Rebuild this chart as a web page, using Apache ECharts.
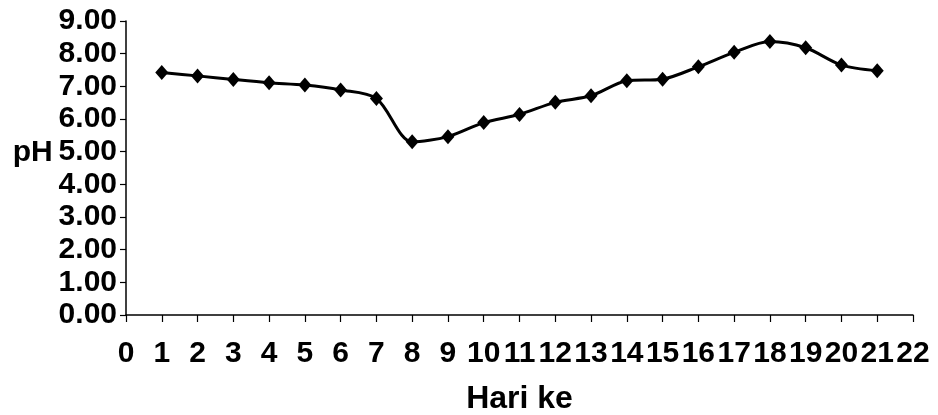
<!DOCTYPE html>
<html>
<head>
<meta charset="utf-8">
<script src="https://cdn.jsdelivr.net/npm/echarts@6/dist/echarts.min.js"></script>
<style>
html,body{margin:0;padding:0;background:#fff;}
#chart{width:938px;height:415px;}
</style>
</head>
<body>
<div id="chart"></div>
<script>
var days = [1,2,3,4,5,6,7,8,9,10,11,12,13,14,15,16,17,18,19,20,21];
var phValues = [7.42,7.32,7.21,7.11,7.04,6.89,6.63,5.30,5.46,5.89,6.14,6.51,6.71,7.17,7.22,7.60,8.04,8.37,8.18,7.65,7.48];
var xTickLabels = ['0','1','2','3','4','5','6','7','8','9','10','11','12','13','14','15','16','17','18','19','20','21','22'];
var yTickLabels = ['0.00','1.00','2.00','3.00','4.00','5.00','6.00','7.00','8.00','9.00'];
var xTitle = 'Hari ke';
var yTitle = 'pH';

var font = '"Liberation Sans", Arial, sans-serif';
var chart = echarts.init(document.getElementById('chart'), null, {renderer:'canvas'});
chart.setOption({
  animation: false,
  backgroundColor: '#fff',
  grid: {left: 126, right: 25, top: 21, bottom: 100, containLabel: false, outerBoundsMode: 'none'},
  xAxis: {
    type: 'value', min: 0, max: xTickLabels.length - 1, interval: 1,
    name: xTitle, nameLocation: 'middle', nameGap: 68,
    nameTextStyle: {fontFamily: font, fontWeight: 'bold', fontSize: 32, color: '#000'},
    axisLine: {show: true, lineStyle: {color: '#000', width: 1.5}},
    axisTick: {show: true, length: 7, lineStyle: {color: '#000', width: 1.2}},
    axisLabel: {
      margin: 24, fontFamily: font, fontWeight: 'bold', fontSize: 30, color: '#000',
      hideOverlap: false,
      formatter: function(v){ return xTickLabels[Math.round(v)]; }
    },
    splitLine: {show: false}
  },
  yAxis: {
    type: 'value', min: 0, max: yTickLabels.length - 1, interval: 1,
    name: yTitle, nameLocation: 'middle', nameRotate: 0, nameGap: 73,
    nameTextStyle: {fontFamily: font, fontWeight: 'bold', fontSize: 30, color: '#000',
      align: 'right', verticalAlign: 'bottom'},
    axisLine: {show: true, lineStyle: {color: '#000', width: 1.5}},
    axisTick: {show: true, inside: false, length: 6, lineStyle: {color: '#000', width: 1.2}},
    axisLabel: {
      margin: 9, fontFamily: font, fontWeight: 'bold', fontSize: 30, color: '#000',
      formatter: function(v){ return yTickLabels[Math.round(v)]; }
    },
    splitLine: {show: false}
  },
  series: [{
    type: 'line',
    data: days.map(function(d, i){ return [d, phValues[i]]; }),
    smooth: 0.3,
    symbol: 'diamond',
    symbolSize: [13, 15],
    itemStyle: {color: '#000'},
    lineStyle: {color: '#000', width: 3}
  }]
});
</script>
</body>
</html>
